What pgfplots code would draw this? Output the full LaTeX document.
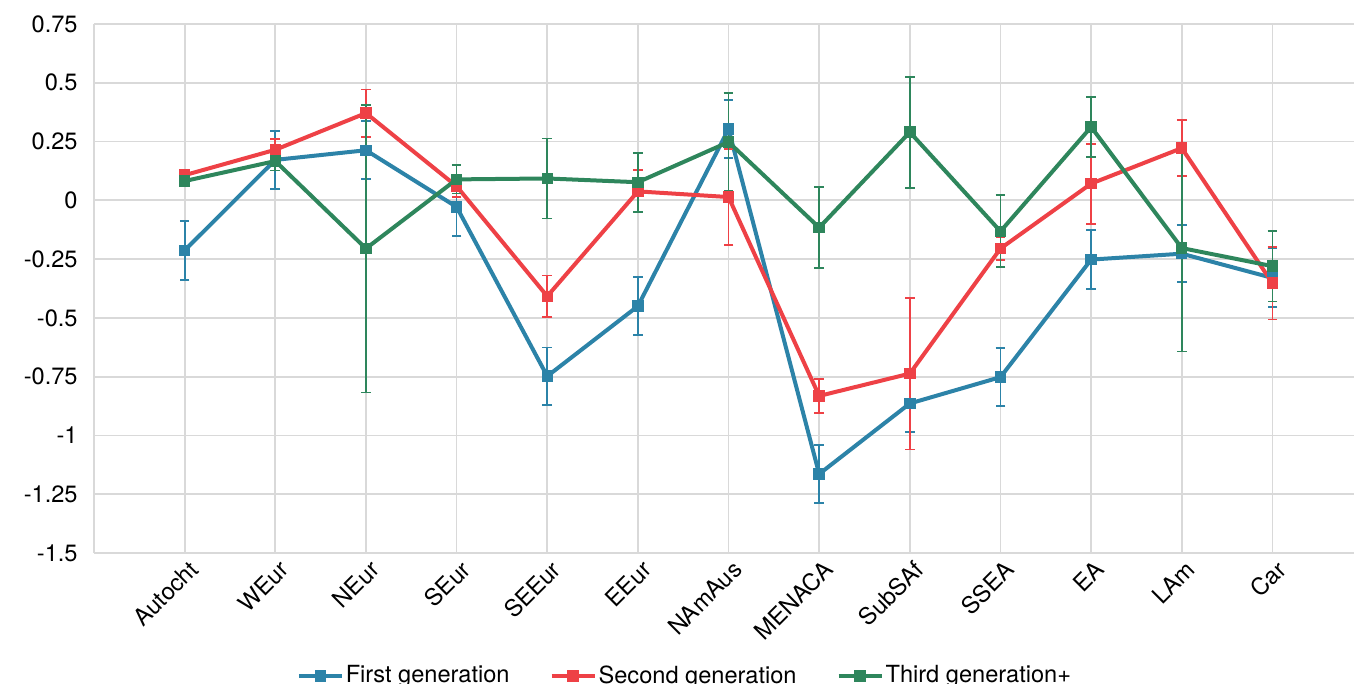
\documentclass[border=0pt]{standalone}
\usepackage{fontspec}
\setmainfont{TeX Gyre Heros}
\usepackage{pgfplots}
\pgfplotsset{compat=1.18}
\usepackage{pgfplotstable}

\definecolor{gen1}{RGB}{44,131,168}
\definecolor{gen2}{RGB}{238,65,70}
\definecolor{gen3}{RGB}{46,134,92}
\definecolor{gridgray}{RGB}{217,217,217}

% x, mean, error (95% CI half width)
\pgfplotstableread{
x  v      e
0  -0.213 0.125
1  0.172  0.123
2  0.213  0.123
3  -0.028 0.125
4  -0.748 0.122
5  -0.450 0.123
6  0.303  0.123
7  -1.164 0.122
8  -0.864 0.123
9  -0.752 0.124
10 -0.252 0.125
11 -0.227 0.122
12 -0.330 0.125
}\first
\pgfplotstableread{
x  v      e
0  0.107  0.020
1  0.215  0.045
2  0.371  0.100
3  0.060  0.046
4  -0.408 0.088
5  0.038  0.090
6  0.014  0.205
7  -0.832 0.072
8  -0.737 0.323
9  -0.205 0.050
10 0.071  0.170
11 0.222  0.120
12 -0.352 0.155
}\second
\pgfplotstableread{
x  v      e
0  0.082  0.020
1  0.167  0.040
2  -0.205 0.612
3  0.089  0.060
4  0.093  0.170
5  0.077  0.125
6  0.248  0.207
7  -0.116 0.173
8  0.290  0.236
9  -0.132 0.153
10 0.312  0.128
11 -0.203 0.440
12 -0.280 0.150
}\third

\pgfplotsset{
  gen/.style={
    color=#1, line width=2pt, mark=square*, mark size=2.6pt,
    mark options={solid, line width=0pt},
    error bars/.cd, y dir=both, y explicit,
    error bar style={line width=0.9pt, color=#1},
    error mark=-, error mark options={rotate=90, mark size=2.4pt, line width=0.9pt, color=#1},
  },
}

\begin{document}
\begin{tikzpicture}
\fontsize{11.8}{13}\selectfont
\begin{axis}[
  at={(0,0)}, anchor=south west,
  scale only axis,
  width=630pt, height=264.5pt,
  xmin=-1, xmax=12.9,
  ymin=-1.5, ymax=0.75,
  axis x line*=bottom, axis y line*=left,
  axis line style={draw=gridgray, line width=0.9pt},
  grid=major,
  grid style={draw=gridgray, line width=0.9pt},
  major tick length=0pt,
  xtick={0,...,12},
  xticklabels={Autocht,WEur,NEur,SEur,SEEur,EEur,NAmAus,MENACA,SubSAf,SSEA,EA,LAm,Car},
  xticklabel style={rotate=45, anchor=north east, inner sep=1pt, yshift=-2pt, font=\fontsize{11.8}{13}\selectfont},
  ytick={-1.5,-1.25,...,0.75},
  yticklabels={-1.5,-1.25,-1,-0.75,-0.5,-0.25,0,0.25,0.5,0.75},
  yticklabel style={anchor=east, inner sep=0pt, xshift=-8pt, font=\fontsize{11.8}{13}\selectfont},
  clip=false,
  legend columns=3,
  legend style={
    at={(0.469,0)}, anchor=center, yshift=-61.5pt,
    draw=none, fill=none,
    font=\fontsize{11.8}{13}\selectfont,
    inner sep=0pt,
    nodes={inner sep=1pt},
    /tikz/every even column/.append style={column sep=19pt},
  },
  legend image code/.code={
    \draw[mark repeat=2, mark phase=2, #1] plot coordinates {(0pt,0pt) (10.75pt,0pt) (21.5pt,0pt)};
  },
]
\addplot[gen=gen1] table[x=x, y=v, y error=e] {\first};
\addlegendentry{First generation}
\addplot[gen=gen2] table[x=x, y=v, y error=e] {\second};
\addlegendentry{Second generation}
\addplot[gen=gen3] table[x=x, y=v, y error=e] {\third};
\addlegendentry{Third generation+}
\end{axis}
\pgfresetboundingbox
\path[use as bounding box] (-47pt,-65.5pt) rectangle (630pt,276.5pt);
\end{tikzpicture}
\end{document}
